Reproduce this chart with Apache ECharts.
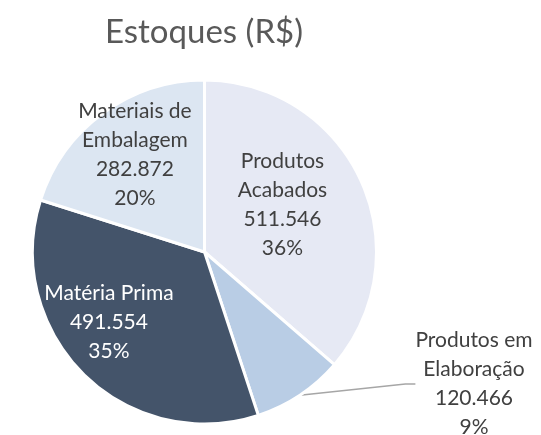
<!DOCTYPE html>
<html>
<head>
<meta charset="utf-8">
<script src="https://cdn.jsdelivr.net/npm/echarts@6/dist/echarts.min.js"></script>
<style>
html, body { margin: 0; padding: 0; background: #fff; }
#chart { width: 541px; height: 435px; }
</style>
</head>
<body>
<div id="chart"></div>
<script>
// dados do gráfico
var categorias = ['Produtos\nAcabados', 'Produtos em\nElaboração', 'Matéria Prima', 'Materiais de\nEmbalagem'];
var valores = [511546, 120466, 491554, 282872];
var cores = ['#e6e9f4', '#b9cde5', '#44546a', '#dce6f2'];
var corTexto = ['#404040', '#404040', '#ffffff', '#404040'];

function fmt_num(v){
    return String(v).replace(/\B(?=(\d{3})+(?!\d))/g, '.');
}

var chart = echarts.init(document.getElementById('chart'));

var dados = [];
for (var i = 0; i < categorias.length; i++){
    dados.push({
        name: categorias[i],
        value: valores[i],
        itemStyle: { color: cores[i] },
        label: {
            position: i == 1 ? 'outside' : 'inside',
            color: corTexto[i]
        },
        labelLine: { show: i == 1 }
    });
}

// deslocamentos dos rótulos (aprox. "melhor ajuste" do Excel)
var ajustes = [
    { dx: -3, dy: -10 },
    { x: 474, y: 384 },
    { dx: -33, dy: 7 },
    { dx: -17, dy: -25 }
];

var option = {};
option['title'] = {
    text: 'Estoques (R$)',
    left: 199,
    top: 11,
    textAlign: 'center',
    textStyle: {
        fontFamily: 'Lato',
        fontSize: 33,
        fontWeight: 'normal',
        color: '#595959'
    }
};
option['series'] = [{
    type: 'pie',
    center: [204.5, 252],
    radius: [0, 172],
    startAngle: 90,
    clockwise: true,
    avoidLabelOverlap: false,
    itemStyle: {
        borderColor: '#ffffff',
        borderWidth: 3
    },
    label: {
        fontFamily: 'Lato',
        fontSize: 21,
        lineHeight: 29,
        align: 'center',
        formatter: function(p){
            return p.name + '\n' + fmt_num(p.value) + '\n' + Math.round(p.percent) + '%';
        }
    },
    labelLine: {
        lineStyle: { color: '#a6a6a6', width: 1.5 },
        length: 10,
        length2: 10
    },
    labelLayout: function(params){
        var a = ajustes[params.dataIndex];
        if (a.x != null){
            return { x: a.x, y: a.y, align: 'center', verticalAlign: 'middle' };
        }
        return { dx: a.dx, dy: a.dy };
    },
    data: dados
}];

chart.setOption(option);
</script>
</body>
</html>
